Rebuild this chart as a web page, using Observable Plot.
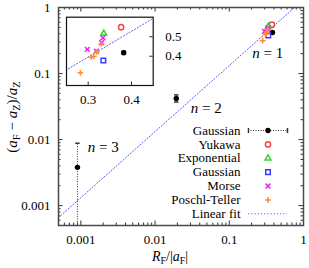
<!DOCTYPE html>
<html><head><meta charset="utf-8">
<script src="https://cdn.jsdelivr.net/npm/d3@7"></script>
<script src="https://cdn.jsdelivr.net/npm/@observablehq/plot@0.6"></script>
<style>
body{margin:0;background:#fff;}
#wrap{position:relative;width:309px;height:268px;font-family:"Liberation Serif",serif;font-size:13px;color:#000;}
#wrap svg{position:absolute;left:0;top:0;}
.lbl{position:absolute;white-space:nowrap;line-height:1;}
.lbl sub{font-size:0.7em;vertical-align:-0.3em;line-height:0;}
</style></head><body><div id="wrap"></div>
<script>
// ---- data ----
const xDomain = [0.0005, 1];
const yDomain = [0.0005, 1];
const xTicks = [0.001, 0.01, 0.1, 1];
const xTickLabels = ["0.001", "0.01", "0.1", "1"];
const yTicks = [0.001, 0.01, 0.1, 1];
const yTickLabels = ["0.001", "0.01", "0.1", "1"];

const insetXDomain = [0.25, 0.45];
const insetYDomain = [0.25, 0.6];
const insetXTicks = [0.3, 0.4];
const insetXTickLabels = ["0.3", "0.4"];
const insetYTicks = [0.4, 0.5];
const insetYTickLabels = ["0.4", "0.5"];

// Gaussian (error bars), n = 1, 2, 3
const gaussN  = [1, 2, 3];
const gaussX  = [0.382, 0.0193, 0.00090];
const gaussY  = [0.418, 0.042, 0.0038];
const gaussLo = [0.410, 0.0370, 0.0003];
const gaussHi = [0.426, 0.0475, 0.0088];

const yukawaX = [0.376];            const yukawaY = [0.549];
const expX    = [0.336];            const expY    = [0.517];
const gauss2X = [0.335];            const gauss2Y = [0.378];
const morseX  = [0.334, 0.331, 0.298, 0.319];
const morseY  = [0.494, 0.469, 0.435, 0.426];
const ptX     = [0.282, 0.307, 0.313, 0.320, 0.330];
const ptY     = [0.315, 0.395, 0.399, 0.422, 0.463];

// linear fit y = a * x
const fitSlope = 1.32;
const fitX = [0.0005, 1];

const nLabels = ["n = 1", "n = 2", "n = 3"];
const nLabelX = [0.33, 0.049, 0.0020];
const nLabelY = [0.20, 0.030, 0.0078];

const legendLabels = ["Gaussian", "Yukawa", "Exponential", "Gaussian", "Morse", "Poschl-Teller", "Linear fit"];

// ---- styling ----
const C = {gauss:"#000000", yukawa:"#f04848", exp:"#2ed62e", gauss2:"#3a3aff", morse:"#ee22ee", pt:"#ff8a3a", fit:"#5a5aff", err:"#333"};
const W = 309, H = 268;
const font = {fontFamily:"'Liberation Serif', serif", fontSize:"13px", background:"transparent", color:"#000", overflow:"visible"};

const gaussRows = gaussN.map((n,i)=>({n, x:gaussX[i], y:gaussY[i], lo:gaussLo[i], hi:gaussHi[i]}));
const rows = (xs, ys) => xs.map((x,i)=>({x, y:ys[i]}));
const fitRows = fitX.map(x=>({x, y:fitSlope*x}));
const capSymbol = {draw(ctx){ctx.moveTo(-2.2,0);ctx.lineTo(2.2,0);}};
const vcapSymbol = {draw(ctx){ctx.moveTo(0,-2.5);ctx.lineTo(0,2.5);}};

function seriesMarks() {
  return [
    Plot.ruleX(gaussRows, {x:"x", y1:"lo", y2:"hi", stroke:C.err, strokeDasharray:"1,1.5", clip:true}),
    Plot.dot(gaussRows, {x:"x", y:"hi", symbol:capSymbol, r:3, stroke:C.err, fill:"none", clip:true}),
    Plot.dot(gaussRows, {x:"x", y:"lo", symbol:capSymbol, r:3, stroke:C.err, fill:"none", clip:true}),
    Plot.dot(gaussRows, {x:"x", y:"y", r:2.7, fill:C.gauss, stroke:"none", clip:true}),
    Plot.dot(rows(yukawaX,yukawaY), {x:"x", y:"y", r:2.6, stroke:C.yukawa, fill:"none", clip:true}),
    Plot.dot(rows(expX,expY), {x:"x", y:"y", symbol:"triangle2", r:2.8, stroke:C.exp, fill:"none", clip:true}),
    Plot.dot(rows(gauss2X,gauss2Y), {x:"x", y:"y", symbol:"square2", r:2.9, stroke:C.gauss2, fill:"none", clip:true}),
    Plot.dot(rows(morseX,morseY), {x:"x", y:"y", symbol:"times", r:2.3, stroke:C.morse, fill:"none", clip:true}),
    Plot.dot(rows(ptX,ptY), {x:"x", y:"y", symbol:"plus", r:2.0, stroke:C.pt, fill:"none", clip:true})
  ];
}

// ---- main plot ----
const mL=58, mR=6, mT=7, mB=43;
const PW = W-mL-mR, PH = H-mT-mB;
const xMinor = d3.scaleLog().domain(xDomain).ticks().filter(t=>!xTicks.some(m=>Math.abs(m-t)/m<1e-6));
const yMinor = d3.scaleLog().domain(yDomain).ticks().filter(t=>!yTicks.some(m=>Math.abs(m-t)/m<1e-6));
const tk = "#333";
const main = Plot.plot({
  width:W, height:H, marginLeft:mL, marginRight:mR, marginTop:mT, marginBottom:mB,
  x:{type:"log", domain:xDomain},
  y:{type:"log", domain:yDomain},
  style:font,
  marks:[
    Plot.ruleX(xTicks, {x:d=>d, insetTop:PH-4.5, stroke:tk}),
    Plot.ruleX(xTicks, {x:d=>d, insetBottom:PH-4.5, stroke:tk}),
    Plot.ruleX(xMinor, {x:d=>d, insetTop:PH-2.5, stroke:tk}),
    Plot.ruleX(xMinor, {x:d=>d, insetBottom:PH-2.5, stroke:tk}),
    Plot.ruleY(yTicks, {y:d=>d, insetRight:PW-4.5, stroke:tk}),
    Plot.ruleY(yTicks, {y:d=>d, insetLeft:PW-4.5, stroke:tk}),
    Plot.ruleY(yMinor, {y:d=>d, insetRight:PW-2.5, stroke:tk}),
    Plot.ruleY(yMinor, {y:d=>d, insetLeft:PW-2.5, stroke:tk}),
    Plot.axisX({ticks:xTicks, tickSize:0, tickPadding:9, tickFormat:d=>xTickLabels[xTicks.indexOf(d)], label:null}),
    Plot.axisY({ticks:yTicks, tickSize:0, tickPadding:8, tickFormat:d=>yTickLabels[yTicks.indexOf(d)], label:null}),
    Plot.line(fitRows, {x:"x", y:"y", stroke:C.fit, strokeWidth:1, strokeDasharray:"1.2,2", clip:true}),
    ...seriesMarks(),
    Plot.text(nLabels.map((t,i)=>({t, x:nLabelX[i], y:nLabelY[i]})), {x:"x", y:"y", text:"t", fontSize:15}),
    Plot.frame({stroke:"#4a4a4a", strokeWidth:1.5})
  ]
});

// ---- inset ----
const iL=66, iR=152.7, iT=16.7, iB=85;
const IW = iR-iL, IH = iB-iT;
const inset = Plot.plot({
  width:W, height:H, marginLeft:iL, marginRight:W-iR, marginTop:iT, marginBottom:H-iB,
  x:{domain:insetXDomain}, y:{domain:insetYDomain},
  style:font,
  marks:[
    Plot.frame({fill:"white", stroke:"none"}),
    Plot.ruleX(insetXTicks, {x:d=>d, insetTop:IH-3.5, stroke:tk}),
    Plot.ruleY(insetYTicks, {y:d=>d, insetLeft:IW-3.5, stroke:tk}),
    Plot.axisX({ticks:insetXTicks, tickSize:0, tickPadding:9, tickFormat:d=>insetXTickLabels[insetXTicks.indexOf(d)], label:null}),
    Plot.axisY({anchor:"right", ticks:insetYTicks, tickSize:0, tickPadding:12, tickFormat:d=>insetYTickLabels[insetYTicks.indexOf(d)], label:null}),
    Plot.line(fitRows, {x:"x", y:"y", stroke:C.fit, strokeWidth:1, strokeDasharray:"1.2,2", clip:true}),
    ...seriesMarks(),
    Plot.frame({stroke:"#111", strokeWidth:1.2})
  ]
});

// ---- legend ----
const legRows = legendLabels.map((label,i)=>({label, i}));
const legend = Plot.plot({
  width:W, height:H, margin:0,
  x:{domain:[0,1], range:[248,287], axis:null},
  y:{domain:[0,6], range:[130,213.3], axis:null},
  style:font,
  marks:[
    Plot.text(legRows, {x:0, y:"i", text:"label", textAnchor:"end", dx:-8}),
    Plot.ruleY([0], {y:d=>d, x1:0, x2:1, stroke:C.err, strokeDasharray:"1,1.5"}),
    Plot.dot([0,1], {x:d=>d, y:0, symbol:vcapSymbol, r:3, stroke:C.err, fill:"none"}),
    Plot.dot([0], {x:0.5, y:d=>d, r:2.7, fill:C.gauss, stroke:"none"}),
    Plot.dot([1], {x:0.5, y:d=>d, r:2.6, stroke:C.yukawa, fill:"none"}),
    Plot.dot([2], {x:0.5, y:d=>d, symbol:"triangle2", r:2.8, stroke:C.exp, fill:"none"}),
    Plot.dot([3], {x:0.5, y:d=>d, symbol:"square2", r:2.9, stroke:C.gauss2, fill:"none"}),
    Plot.dot([4], {x:0.5, y:d=>d, symbol:"times", r:2.3, stroke:C.morse, fill:"none"}),
    Plot.dot([5], {x:0.5, y:d=>d, symbol:"plus", r:2.0, stroke:C.pt, fill:"none"}),
    Plot.ruleY([6], {y:d=>d, x1:0, x2:1, stroke:C.fit, strokeDasharray:"1.2,2"})
  ]
});

const wrap = document.getElementById("wrap");
wrap.append(main, inset, legend);

// italic n in annotations
main.querySelectorAll("text").forEach(t=>{
  const m = /^n = (\d)$/.exec(t.textContent);
  if (m) t.innerHTML = '<tspan font-style="italic">n</tspan> = ' + m[1];
});

// axis titles
const xl = document.createElement("div");
xl.className = "lbl";
xl.innerHTML = '<i>R</i><sub>F</sub>/|<i>a</i><sub>F</sub>|';
xl.style.cssText = "left:170px;top:257px;font-size:14px;transform:translate(-50%,-50%);";
const yl = document.createElement("div");
yl.className = "lbl";
yl.innerHTML = '(<i>a</i><sub>F</sub> − <i>a</i><sub>Z</sub>)/<i>a</i><sub>Z</sub>';
yl.style.cssText = "left:12px;top:117px;font-size:15px;transform:translate(-50%,-50%) rotate(-90deg);";
wrap.append(xl, yl);
</script></body></html>
